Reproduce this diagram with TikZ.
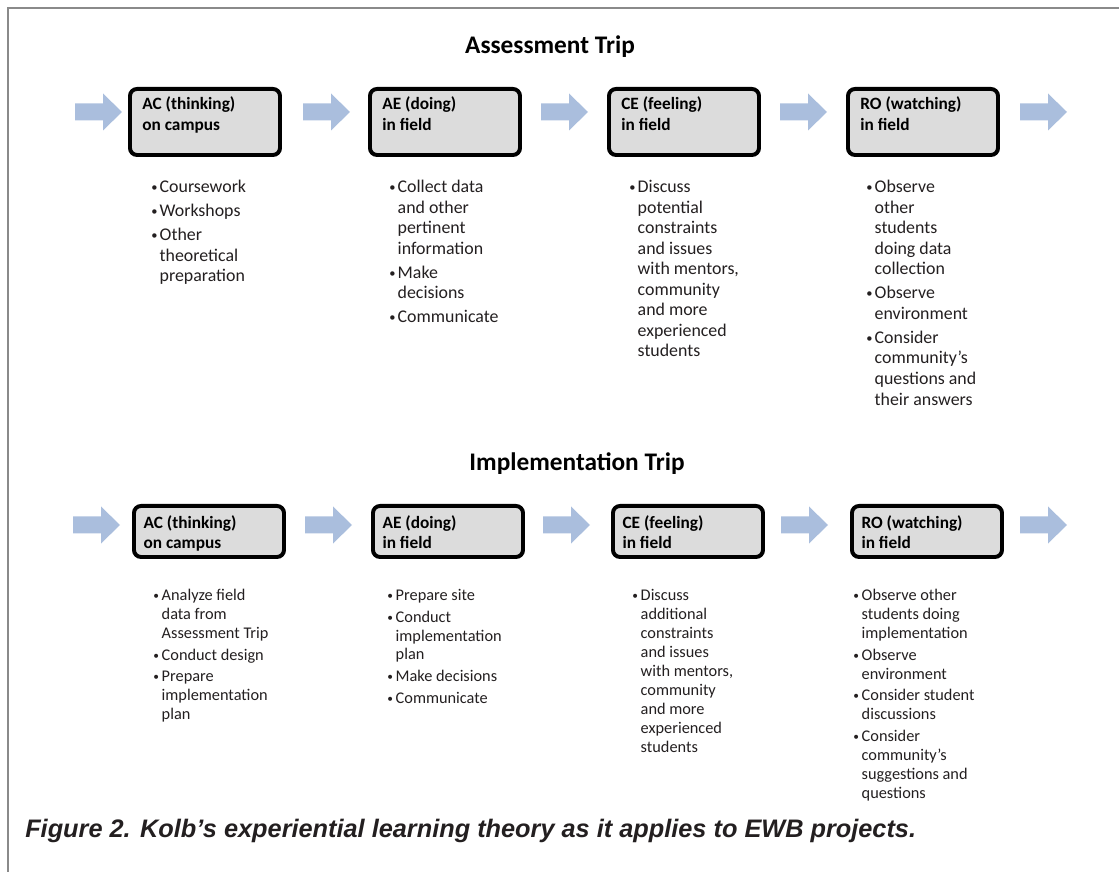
\documentclass[tikz,border=0pt]{standalone}
\usepackage{fontspec}
\setmainfont{Carlito}
\newfontfamily\capfont{Liberation Sans}
\usetikzlibrary{positioning}
\definecolor{flowblue}{RGB}{170,190,221}
\definecolor{boxgray}{RGB}{220,220,220}
\definecolor{framegray}{RGB}{138,138,138}
\definecolor{inkgray}{RGB}{35,31,32}
\newcommand{\itm}{\makebox[6pt][l]{\raisebox{0.7pt}{\scalebox{0.7}{\textbullet}}}}
\newcommand{\cnt}{\hspace*{6pt}}
\tikzset{
        flow/.pic={\fill[flowblue] (0,-8.5) -- (28,-8.5) -- (28,-18.5) -- (47,0) -- (28,18.5) -- (28,8.5) -- (0,8.5) -- cycle;},
        stagebox/.style={draw, line width=2.8pt, rounded corners=5pt, fill=boxgray, minimum width=3.75cm, anchor=north west},
        stagetext/.style={inner sep=0, align=left, font=\bfseries\fontsize{12.3}{15}\selectfont}
}

\begin{document}
\begin{tikzpicture}[x=0.025cm, y=-0.025cm]
                \useasboundingbox (0,0) rectangle (1119,872);
                \draw[framegray, line width=2.1pt] (8,872) -- (8,8) -- (1119,8);
                \node[font=\bfseries\fontsize{18}{20}\selectfont] (T1) at (550,47) {Assessment Trip};
                \node[font=\bfseries\fontsize{18}{20}\selectfont] (T2) at (577,464) {Implementation Trip};
                \foreach \x in {75,303,541,780,1020} \pic at (\x,112) {flow};
                \foreach \x in {73,305,543,781,1020} \pic at (\x,525) {flow};
                \begin{scope}[every node/.style={stagebox, minimum height=1.65cm}]
                        \node (AC1) at (128,87) {};
                        \node (AE1) at (368,87) {};
                        \node (CE1) at (607,87) {};
                        \node (RO1) at (846,87) {};
                \end{scope}
                \begin{scope}[every node/.style={stagebox, minimum height=1.275cm}]
                        \node (AC2) at (132,504) {};
                        \node (AE2) at (371,504) {};
                        \node (CE2) at (611,504) {};
                        \node (RO2) at (850,504) {};
                \end{scope}
                \begin{scope}[every node/.style={stagetext}]
                        \node[below right=6.5pt and 10pt of AC1.north west] (ACt1) {AC (thinking)\\on campus};
                        \node[below right=6.5pt and 10pt of AE1.north west] (AEt1) {AE (doing)\\in field};
                        \node[below right=6.5pt and 10pt of CE1.north west] (CEt1) {CE (feeling)\\in field};
                        \node[below right=6.5pt and 10pt of RO1.north west] (ROt1) {RO (watching)\\in field};
                \end{scope}
                \begin{scope}[every node/.style={stagetext, font=\bfseries\fontsize{12.3}{14}\selectfont}]
                        \node[below right=8pt and 8pt of AC2.north west] (ACt2) {AC (thinking)\\on campus};
                        \node[below right=8pt and 8pt of AE2.north west] (AEt2) {AE (doing)\\in field};
                        \node[below right=8pt and 8pt of CE2.north west] (CEt2) {CE (feeling)\\in field};
                        \node[below right=8pt and 8pt of RO2.north west] (ROt2) {RO (watching)\\in field};
                \end{scope}
                \begin{scope}[every node/.style={inner sep=0, anchor=north west, align=left, text=inkgray, font=\fontsize{12.7}{14.6}\selectfont}]
                        \node (AClist1) at (151,180) {\itm Coursework\\[2.5pt]\itm Workshops\\[2.5pt]\itm Other\\\cnt theoretical\\\cnt preparation};
                        \node (AElist1) at (389,180) {\itm Collect data\\\cnt and other\\\cnt pertinent\\\cnt information\\[2.5pt]\itm Make\\\cnt decisions\\[2.5pt]\itm Communicate};
                        \node (CElist1) at (629,180) {\itm Discuss\\\cnt potential\\\cnt constraints\\\cnt and issues\\\cnt with mentors,\\\cnt community\\\cnt and more\\\cnt experienced\\\cnt students};
                        \node (ROlist1) at (866,180) {\itm Observe\\\cnt other\\\cnt students\\\cnt doing data\\\cnt collection\\[2.5pt]\itm Observe\\\cnt environment\\[2.5pt]\itm Consider\\\cnt community’s\\\cnt questions and\\\cnt their answers};
                \end{scope}
                \begin{scope}[every node/.style={inner sep=0, anchor=north west, align=left, text=inkgray, font=\fontsize{11.6}{13.5}\selectfont}]
                        \node (AClist2) at (153,589) {\itm Analyze field\\\cnt data from\\\cnt Assessment Trip\\[1.8pt]\itm Conduct design\\[1.8pt]\itm Prepare\\\cnt implementation\\\cnt plan};
                        \node (AElist2) at (387,589) {\itm Prepare site\\[1.8pt]\itm Conduct\\\cnt implementation\\\cnt plan\\[1.8pt]\itm Make decisions\\[1.8pt]\itm Communicate};
                        \node (CElist2) at (632,589) {\itm Discuss\\\cnt additional\\\cnt constraints\\\cnt and issues\\\cnt with mentors,\\\cnt community\\\cnt and more\\\cnt experienced\\\cnt students};
                        \node (ROlist2) at (853,589) {\itm Observe other\\\cnt students doing\\\cnt implementation\\[1.8pt]\itm Observe\\\cnt environment\\[1.8pt]\itm Consider student\\\cnt discussions\\[1.8pt]\itm Consider\\\cnt community’s\\\cnt suggestions and\\\cnt questions};
                \end{scope}
                \node[anchor=west, inner sep=0, text=inkgray, font=\capfont\bfseries\itshape\fontsize{18}{20}\selectfont] (Cap) at (25,831) {Figure 2. Kolb’s experiential learning theory as it applies to EWB projects.};
        \end{tikzpicture}
\end{document}
